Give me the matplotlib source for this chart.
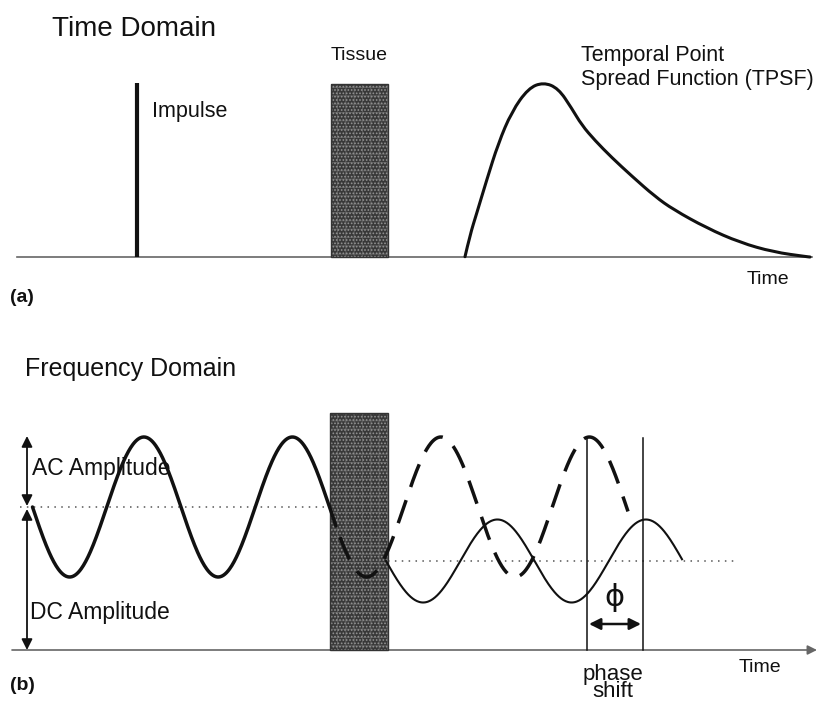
import numpy as np
import matplotlib
matplotlib.use("Agg")
import matplotlib.pyplot as plt
from matplotlib.patches import Rectangle, PathPatch
from matplotlib.path import Path

plt.rcParams['font.family'] = ['Liberation Sans', 'DejaVu Sans']
plt.rcParams['hatch.linewidth'] = 0.8

# ---------------- data (pixel units) ----------------
# (a) time domain
time_baseline = 257
impulse_x = 137
impulse_top = 83
tissue_a = [331, 388, 84, 257]          # x0, x1, ytop, ybottom
tpsf_x = [465, 470, 476.7, 486.7, 498.3, 511.7, 528.3, 543.3, 558.3, 571.7,
          581.7, 595, 611.7, 631.7, 655, 673.3, 706.7, 740, 773.3, 806.7, 810]
tpsf_y = [256.7, 235, 213.3, 180, 143.3, 111.7, 88.3, 82.3, 88.3, 108.3,
          125, 140.5, 157.5, 176, 196.5, 209.5, 228, 242.5, 252, 256.7, 257]

# (b) frequency domain
freq_baseline = 650
tissue_b = [330, 388, 413, 650]
wave_period = 148.5
input_center, input_amp = 507, 70
input_start, input_end = 32.5, 336
dashed_start, dashed_end = 340, 628
output_center, output_amp = 561, 41.5
output_start, output_end = 386, 682
phase_lines_x = [587, 643]
phase_lines_top = 438

fig = plt.figure(figsize=(8.18, 7.03), dpi=100)
ax = fig.add_axes([0, 0, 1, 1])
ax.set_xlim(0, 818)
ax.set_ylim(703, 0)
ax.axis('off')

ink = '#111111'
base_col = '#666666'

def tissue(r):
    x0, x1, yt, yb = r
    ax.add_patch(Rectangle((x0, yt), x1 - x0, yb - yt, facecolor='#383838',
                           edgecolor='none', zorder=2))
    ax.add_patch(Rectangle((x0, yt), x1 - x0, yb - yt, fill=False, hatch='++',
                           edgecolor='#5a5a5a', lw=0, zorder=2.05))
    ax.add_patch(Rectangle((x0, yt), x1 - x0, yb - yt, fill=False, hatch='.....',
                           edgecolor='#939393', lw=0, zorder=2.1))
    ax.add_patch(Rectangle((x0, yt), x1 - x0, yb - yt, fill=False,
                           edgecolor='#333333', lw=1.0, zorder=2.2))

def smooth_path(xs, ys):
    # quadratic Bezier through midpoints, read points as control points
    pts = list(zip(xs, ys))
    verts = [pts[0]]
    codes = [Path.MOVETO]
    for i in range(1, len(pts) - 1):
        mid = ((pts[i][0] + pts[i + 1][0]) / 2, (pts[i][1] + pts[i + 1][1]) / 2)
        verts += [pts[i], mid]
        codes += [Path.CURVE3, Path.CURVE3]
    verts.append(pts[-1])
    codes.append(Path.LINETO)
    return Path(verts, codes)

# ---------------- (a) ----------------
ax.plot([17, 812], [time_baseline, time_baseline], color=base_col, lw=1.2, zorder=1)
ax.plot([impulse_x, impulse_x], [time_baseline, impulse_top], color=ink, lw=3.0,
        solid_capstyle='butt', zorder=3)
tissue(tissue_a)
ax.add_patch(PathPatch(smooth_path(tpsf_x, tpsf_y), fill=False, edgecolor=ink,
                       lw=2.2, capstyle='round', joinstyle='round', zorder=3))

ax.text(52, 29, 'Time Domain', fontsize=20, color=ink, va='center', ha='left')
ax.text(359, 55, 'Tissue', fontsize=14, color=ink, va='center', ha='center')
ax.text(152, 111, 'Impulse', fontsize=15.5, color=ink, va='center', ha='left')
ax.text(581, 55, 'Temporal Point', fontsize=15.5, color=ink, va='center', ha='left')
ax.text(581, 79, 'Spread Function (TPSF)', fontsize=15.5, color=ink, va='center', ha='left')
ax.text(768, 279, 'Time', fontsize=14, color=ink, va='center', ha='center')
ax.text(10, 297, '(a)', fontsize=14, color=ink, va='center', ha='left', fontweight='bold')

# ---------------- (b) ----------------
ax.annotate('', xy=(817, freq_baseline), xytext=(12, freq_baseline),
            arrowprops=dict(arrowstyle='-|>', color=base_col, lw=1.2,
                            mutation_scale=14, shrinkA=0, shrinkB=0), zorder=1)
tissue(tissue_b)

# dotted DC levels
ax.plot([20, tissue_b[0]], [input_center, input_center], color='#555555', lw=1.1,
        linestyle=(0, (1, 3.5)), zorder=1)
ax.plot([tissue_b[1], 738], [output_center, output_center], color='#555555', lw=1.1,
        linestyle=(0, (1, 3.5)), zorder=1)

def wave(x0, x1, xref, center, amp):
    x = np.linspace(x0, x1, 400)
    return x, center + amp * np.sin(2 * np.pi * (x - xref) / wave_period)

x, y = wave(input_start, input_end, input_start, input_center, input_amp)
ax.plot(x, y, color=ink, lw=2.5, solid_capstyle='round', zorder=3)
x, y = wave(dashed_start, dashed_end, input_start, input_center, input_amp)
ax.plot(x, y, color=ink, lw=2.5, linestyle=(0, (7, 4)), zorder=3)
x, y = wave(output_start, output_end, output_start, output_center, output_amp)
ax.plot(x, y, color=ink, lw=1.5, zorder=3)

for px in phase_lines_x:
    ax.plot([px, px], [freq_baseline, phase_lines_top], color=ink, lw=1.1, zorder=3)

arr = dict(arrowstyle='<|-|>', color=ink, lw=1.3, mutation_scale=16,
           shrinkA=0, shrinkB=0)
ax.annotate('', xy=(27, input_center - input_amp - 1), xytext=(27, input_center - 1),
            arrowprops=arr, zorder=4)
ax.annotate('', xy=(27, input_center + 2), xytext=(27, freq_baseline),
            arrowprops=arr, zorder=4)
ax.annotate('', xy=(phase_lines_x[0] + 2, 624), xytext=(phase_lines_x[1] - 2, 624),
            arrowprops=dict(arrowstyle='<|-|>', color=ink, lw=1.8, mutation_scale=17,
                            shrinkA=0, shrinkB=0), zorder=4)

ax.text(25, 369, 'Frequency Domain', fontsize=18, color=ink, va='center', ha='left')
ax.text(32, 468, 'AC Amplitude', fontsize=16.5, color=ink, va='center', ha='left')
ax.text(30, 612, 'DC Amplitude', fontsize=16.5, color=ink, va='center', ha='left')
ax.text(614, 598, '\u03d5', fontsize=22, color=ink, va='center', ha='center',
        family=['DejaVu Sans'])
ax.text(613, 683, 'phase\nshift', fontsize=16, color=ink, va='center', ha='center',
        linespacing=0.75)
ax.text(760, 668, 'Time', fontsize=14, color=ink, va='center', ha='center')
ax.text(10, 685, '(b)', fontsize=14, color=ink, va='center', ha='left', fontweight='bold')

fig.savefig('out.png', dpi=100, facecolor='white')
